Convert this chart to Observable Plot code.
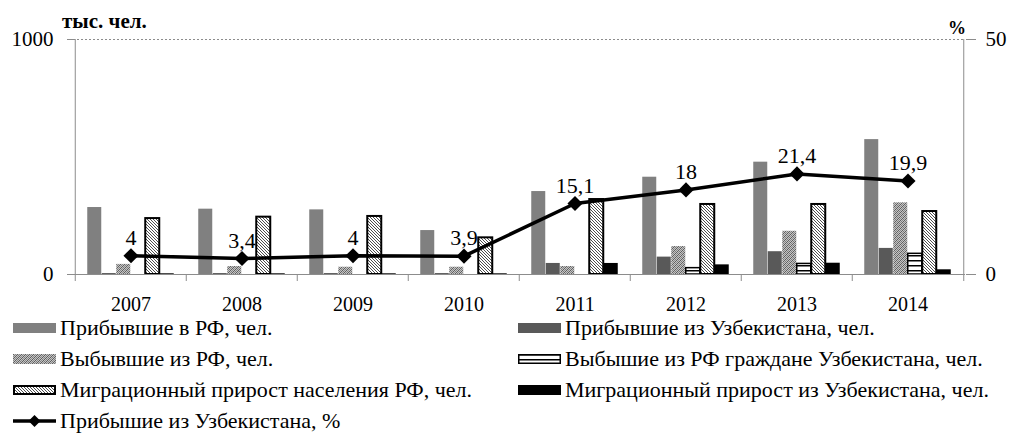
<!DOCTYPE html>
<html><head><meta charset="utf-8">
<script src="https://cdn.jsdelivr.net/npm/d3@7"></script>
<script src="https://cdn.jsdelivr.net/npm/@observablehq/plot@0.6"></script>
<style>
body{margin:0;background:#fff;font-family:"Liberation Serif","Tinos","DejaVu Serif","Noto Serif","Times New Roman",Times,serif;color:#000;}
#wrap{position:relative;width:1009px;height:434px;overflow:hidden;background:#fff;}
#chart{position:absolute;left:0;top:0;}
.unit{position:absolute;font-weight:bold;font-size:21px;line-height:1;white-space:nowrap;}
.leg{position:absolute;display:flex;align-items:center;font-size:22px;white-space:nowrap;line-height:1;height:26px;}
.leg svg{margin-right:4px;flex:none;}
</style></head>
<body>
<svg width="0" height="0" style="position:absolute">
<defs>
<pattern id="speckle" width="4" height="4" patternUnits="userSpaceOnUse">
<rect width="4" height="4" fill="#c4c4c4"/>
<rect x="0" y="0" width="1" height="1" fill="#5e5e5e"/>
<rect x="2" y="0" width="1" height="1" fill="#8a8a8a"/>
<rect x="1" y="1" width="1" height="1" fill="#7a7a7a"/>
<rect x="3" y="1" width="1" height="1" fill="#5e5e5e"/>
<rect x="0" y="2" width="1" height="1" fill="#8a8a8a"/>
<rect x="2" y="2" width="1" height="1" fill="#5e5e5e"/>
<rect x="1" y="3" width="1" height="1" fill="#5e5e5e"/>
<rect x="3" y="3" width="1" height="1" fill="#7a7a7a"/>
</pattern>
<pattern id="hstripes" width="4" height="5" patternUnits="userSpaceOnUse">
<rect width="4" height="5" fill="#fff"/>
<rect x="0" y="0" width="4" height="1.5" fill="#000"/>
</pattern>
<pattern id="diag" width="3" height="3" patternUnits="userSpaceOnUse">
<rect width="3" height="3" fill="#fff"/>
<path d="M-1,-1 L4,4 M-1,2 L1,4 M2,-1 L4,1" stroke="#3a3a3a" stroke-width="0.9"/>
</pattern>
</defs></svg>
<div id="wrap">
<div id="chart"></div>
<div class="unit" style="left:62px;top:11px">тыс. чел.</div>
<div class="unit" style="left:948px;top:19px;font-size:18px">%</div>
<div id="legend"></div>
</div>
<script>
const years = ["2007","2008","2009","2010","2011","2012","2013","2014"];
const arrivedRF = [285,278,275,187,353,414,478,574];
const arrivedUz = [4,4,4,4,47,74,97,111];
const departedRF = [43,34,31,31,34,119,184,305];
const departedUzCitizens = [0,0,0,0,0,27,45,88];
const netRF = [238,244,247,156,319,298,298,268];
const netUz = [3,3,3,3,47,41,48,20];
const pctUz = [4,3.4,4,3.9,15.1,18,21.4,19.9];
const pctLabels = ["4","3,4","4","3,9","15,1","18","21,4","19,9"];
const leftTicks = [0,1000];
const rightTicks = [0,50];

const seriesNames = [
  "Прибывшие в РФ, чел.",
  "Прибывшие из Узбекистана, чел.",
  "Выбывшие из РФ, чел.",
  "Выбышие из РФ граждане Узбекистана, чел.",
  "Миграционный прирост населения РФ, чел.",
  "Миграционный прирост из Узбекистана, чел."
];
const lineName = "Прибышие из Узбекистана, %";

const seriesValues = [arrivedRF, arrivedUz, departedRF, departedUzCitizens, netRF, netUz];
const seriesStyle = [
  {fill:"#808080", stroke:"none", sw:0},
  {fill:"#595959", stroke:"none", sw:0},
  {fill:"url(#speckle)", stroke:"none", sw:0},
  {fill:"url(#hstripes)", stroke:"#000", sw:1.5},
  {fill:"url(#diag)", stroke:"#000", sw:2},
  {fill:"#000", stroke:"none", sw:0}
];

const FONT = "'Liberation Serif', 'Tinos', 'DejaVu Serif', 'Noto Serif', 'Times New Roman', Times, serif";
const W = 1009, H = 315, mL = 73, mR = 44, mT = 39, mB = 41;
const band = (W - mL - mR) / years.length;
const bw = 14.5;
const off = (band - seriesValues.length * bw) / 2;
const ratio = rightTicks[1] / leftTicks[1];

const bars = seriesValues.map((vals, i) => Plot.barY(
  years.map((y, j) => ({year: y, v: vals[j]})),
  {x: "year", y: "v", fill: seriesStyle[i].fill, stroke: seriesStyle[i].stroke,
   strokeWidth: seriesStyle[i].sw,
   insetLeft: off + i * bw, insetRight: band - off - (i + 1) * bw}
));

const pctData = years.map((y, j) => ({year: y, p: pctUz[j], lab: pctLabels[j]}));

const chart = Plot.plot({
  width: W, height: H, marginLeft: mL, marginRight: mR, marginTop: mT, marginBottom: mB,
  x: {domain: years, type: "band", padding: 0, label: null},
  y: {domain: leftTicks, label: null},
  style: {fontFamily: FONT, fontSize: "20px", color: "#000", background: "transparent", overflow: "visible"},
  marks: [
    Plot.ruleY([leftTicks[1]], {stroke: "#8c8c8c", strokeDasharray: "2,2"}),
    ...bars,
    Plot.ruleY([0], {stroke: "#8c8c8c"}),
    Plot.ruleX([years[0]], {x: d => d, dx: -band / 2, stroke: "#8c8c8c"}),
    Plot.ruleX([years[years.length - 1]], {x: d => d, dx: band / 2, stroke: "#8c8c8c"}),
    Plot.ruleX(years, {x: d => d, dx: -band / 2, insetTop: H - mT - mB, insetBottom: -7, stroke: "#8c8c8c"}),
    Plot.ruleX([years[years.length - 1]], {x: d => d, dx: band / 2, insetTop: H - mT - mB, insetBottom: -7, stroke: "#8c8c8c"}),
    Plot.axisY({anchor: "left", ticks: leftTicks, tickSize: 6, tickPadding: 14, tickFormat: d => String(d), fontSize: 21, stroke: "#8c8c8c", label: null}),
    Plot.axisY({anchor: "right", ticks: rightTicks.map(t => t / ratio), tickSize: 10, tickPadding: 10, tickFormat: d => String(Math.round(d * ratio)), fontSize: 21, stroke: "#8c8c8c", label: null}),
    Plot.axisX({tickSize: 0, tickPadding: 22, fontSize: 20, label: null}),
    Plot.line(pctData, {x: "year", y: d => d.p / ratio, stroke: "#000", strokeWidth: 3.5}),
    Plot.dot(pctData, {x: "year", y: d => d.p / ratio, symbol: "diamond2", r: 6.8, fill: "#000", stroke: "none"}),
    Plot.text(pctData, {x: "year", y: d => d.p / ratio, text: "lab", dy: -18, fontSize: 22, fill: "#000"})
  ]
});
document.getElementById("chart").appendChild(chart);

const legend = document.getElementById("legend");
function swatchSVG(i) {
  const s = seriesStyle[i];
  const sw = s.sw ? Math.max(1.5, s.sw) : 0;
  return `<svg width="43" height="10"><rect x="${sw/2}" y="${sw/2}" width="${43-sw}" height="${10-sw}" fill="${s.fill}" stroke="${s.stroke}" stroke-width="${sw}"/></svg>`;
}
const lineSwatch = `<svg width="43" height="14"><line x1="0" y1="7" x2="43" y2="7" stroke="#000" stroke-width="3.5"/><path d="M21.5,1 L27.5,7 L21.5,13 L15.5,7Z" fill="#000"/></svg>`;
const rowY = [328, 359, 390, 421];
const items = [
  {html: swatchSVG(0), name: seriesNames[0], x: 13, row: 0},
  {html: swatchSVG(1), name: seriesNames[1], x: 518, row: 0},
  {html: swatchSVG(2), name: seriesNames[2], x: 13, row: 1},
  {html: swatchSVG(3), name: seriesNames[3], x: 518, row: 1},
  {html: swatchSVG(4), name: seriesNames[4], x: 13, row: 2},
  {html: swatchSVG(5), name: seriesNames[5], x: 518, row: 2},
  {html: lineSwatch, name: lineName, x: 13, row: 3}
];
for (const it of items) {
  const d = document.createElement("div");
  d.className = "leg";
  d.style.left = it.x + "px";
  d.style.top = (rowY[it.row] - 13) + "px";
  d.innerHTML = it.html + `<span>${it.name}</span>`;
  legend.appendChild(d);
}
</script>
</body></html>
